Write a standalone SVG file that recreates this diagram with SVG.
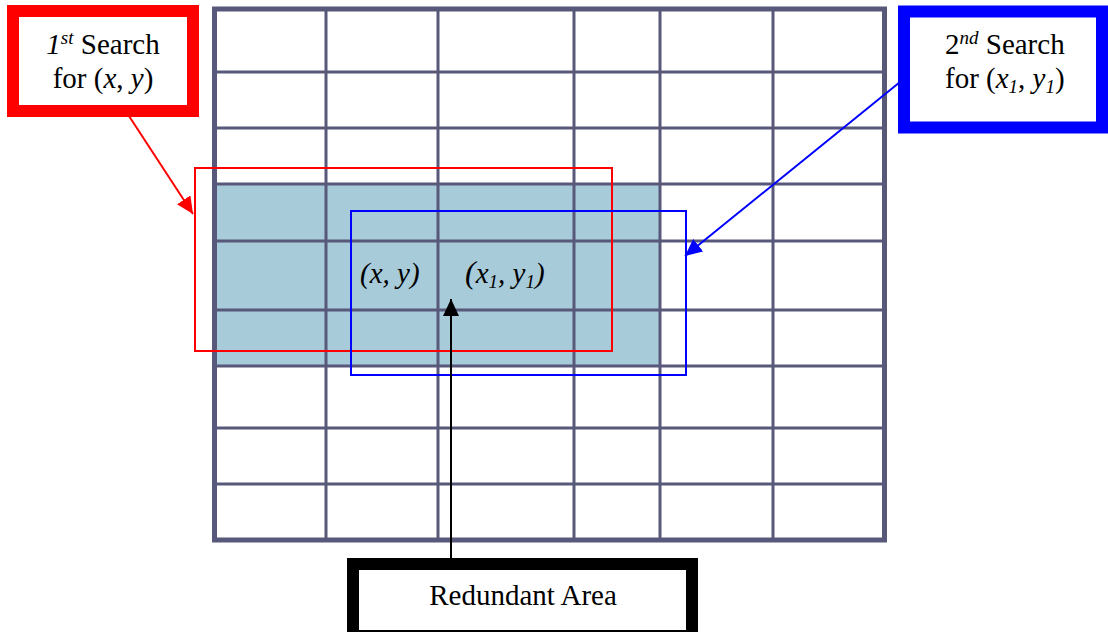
<svg xmlns="http://www.w3.org/2000/svg" width="1108" height="632" viewBox="0 0 1108 632">
<style>
.t{font-family:"Liberation Serif","Times New Roman",serif;font-size:29px;fill:#000}
.i{font-style:italic}
.g{stroke:#58587a;stroke-width:3;fill:none}
</style>
<defs>
<marker id="ar" markerUnits="userSpaceOnUse" markerWidth="18" markerHeight="16" refX="17" refY="8" orient="auto"><path d="M0,0 L17,8 L0,16 Z" fill="#ff0000"/></marker>
<marker id="ab" markerUnits="userSpaceOnUse" markerWidth="18" markerHeight="16" refX="17" refY="8" orient="auto"><path d="M0,0 L17,8 L0,16 Z" fill="#0000ff"/></marker>
<marker id="ak" markerUnits="userSpaceOnUse" markerWidth="18" markerHeight="16" refX="17" refY="8" orient="auto"><path d="M0,0 L17,8 L0,16 Z" fill="#000"/></marker>
</defs>
<rect width="1108" height="632" fill="#fff"/>
<g id="grid">
<rect x="215" y="184" width="445" height="182" fill="#a7cbd9"/>
<path class="g" d="M326,9V540M438,9V540M574,9V540M660,9V540M773,9V540M215,72H884M215,128H884M215,184H884M215,241H884M215,310H884M215,366H884M215,428H884M215,484H884"/>
<rect x="214.5" y="9" width="670" height="531" fill="none" stroke="#58587a" stroke-width="5"/>
</g>
<g id="search1">
<rect x="195" y="168" width="417" height="183" fill="none" stroke="#ff0000" stroke-width="2"/>
</g>
<g id="search2">
<rect x="351" y="211" width="335" height="164" fill="none" stroke="#0000ff" stroke-width="2"/>
</g>
<g id="labels-center">
<text class="t i" x="360" y="283">(x, y)</text>
<text class="t i" x="465" y="283"><tspan font-size="32">(</tspan>x<tspan font-size="19" dy="5">1</tspan><tspan dy="-5">, y</tspan><tspan font-size="19" dy="5">1</tspan><tspan dy="-5">)</tspan></text>
</g>
<g id="connectors">
<line x1="129" y1="116" x2="193" y2="214" stroke="#ff0000" stroke-width="2" marker-end="url(#ar)"/>
<line x1="900" y1="82" x2="685" y2="256" stroke="#0000ff" stroke-width="2" marker-end="url(#ab)"/>
<line x1="451" y1="558" x2="451" y2="299" stroke="#000" stroke-width="2" marker-end="url(#ak)"/>
</g>
<g id="first-search">
<rect x="13" y="11" width="180" height="100" fill="#fff" stroke="#ff0000" stroke-width="12"/>
<text class="t" x="103" y="54" text-anchor="middle"><tspan class="i">1</tspan><tspan class="i" font-size="19" dy="-10">st</tspan><tspan dy="10"> Search</tspan></text>
<text class="t" x="103" y="88" text-anchor="middle">for (<tspan class="i">x</tspan>, <tspan class="i">y</tspan>)</text>
</g>
<g id="second-search">
<rect x="904" y="11.5" width="198" height="116" fill="#fff" stroke="#0000ff" stroke-width="12"/>
<text class="t" x="945" y="54">2<tspan class="i" font-size="19" dy="-10">nd</tspan><tspan dy="10"> Search</tspan></text>
<text class="t" x="945" y="88">for (<tspan class="i">x</tspan><tspan class="i" font-size="19" dy="5">1</tspan><tspan dy="-5">, </tspan><tspan class="i">y</tspan><tspan class="i" font-size="19" dy="5">1</tspan><tspan dy="-5">)</tspan></text>
</g>
<g id="redundant-area">
<rect x="353" y="564" width="339" height="72" fill="#fff" stroke="#000" stroke-width="12"/>
<text class="t" x="523" y="605" text-anchor="middle">Redundant Area</text>
</g>
</svg>
